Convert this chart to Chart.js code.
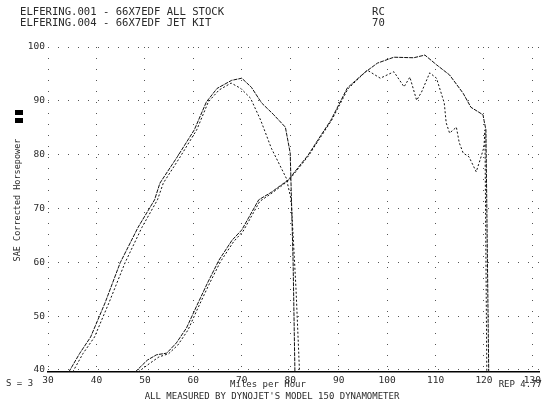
<!DOCTYPE html>
<html>
<head>
<meta charset="utf-8">
<script src="https://cdn.jsdelivr.net/npm/chart.js@4.4.0/dist/chart.umd.min.js"></script>
<style>
  html, body { margin: 0; padding: 0; background: #fff; }
  #wrap { position: relative; width: 544px; height: 409px; }
</style>
</head>
<body>
<div id="wrap"><canvas id="dyno" width="544" height="409"></canvas></div>
<script>
// Dynojet run comparison — SAE corrected HP vs MPH

const X_TICKS = [30, 40, 50, 60, 70, 80, 90, 100, 110, 120, 130];
const Y_TICKS = [40, 50, 60, 70, 80, 90, 100];

// left pair (lower gear)
const L1_MPH = [34.3, 36.5, 38.8, 41.8, 44.9, 48.6, 52.0, 53.1, 56.7, 60.2, 62.7, 64.9, 67.9, 70.0, 72.0, 74.1, 76.5, 79.0, 80.0, 80.6, 81.0];
const L1_HP  = [39.6, 43.0, 46.1, 52.5, 59.9, 66.5, 71.6, 74.7, 79.6, 84.6, 89.8, 92.3, 93.8, 94.2, 92.5, 89.6, 87.5, 85.1, 80.3, 60.0, 38.0];
const L2_MPH = [35.1, 37.2, 39.6, 42.6, 45.9, 49.4, 52.6, 53.8, 57.3, 60.7, 63.1, 65.3, 67.8, 69.8, 71.8, 73.9, 76.1, 79.2, 80.2, 81.2, 82.0];
const L2_HP  = [39.6, 43.0, 46.1, 52.5, 59.9, 66.5, 71.6, 74.7, 79.6, 84.6, 89.8, 92.0, 93.3, 92.3, 90.5, 86.4, 81.2, 75.6, 71.6, 55.0, 38.0];

// right pair (higher gear)
const R1_MPH = [48.0, 50.5, 52.4, 54.5, 56.5, 58.6, 60.6, 62.9, 65.3, 68.0, 70.0, 73.5, 76.1, 79.6, 83.7, 85.7, 88.4, 91.8, 95.3, 98.0, 101.4, 105.5, 107.8, 110.2, 112.9, 115.7, 117.3, 119.8, 120.0, 120.4, 121.0];
const R1_HP  = [39.6, 41.8, 42.8, 43.1, 45.0, 47.8, 51.7, 56.1, 60.4, 64.1, 66.0, 71.6, 73.0, 75.3, 79.9, 82.7, 86.4, 92.4, 95.2, 97.0, 98.1, 98.0, 98.5, 96.7, 94.8, 91.4, 88.8, 87.4, 86.4, 84.6, 38.0];
const R2_MPH = [48.6, 51.0, 52.9, 54.9, 56.8, 58.9, 60.9, 63.2, 65.6, 68.3, 70.3, 73.7, 76.3, 79.7, 83.8, 85.8, 88.5, 91.9, 95.9, 98.6, 101.4, 103.5, 104.7, 106.1, 107.1, 108.8, 110.2, 111.8, 112.2, 112.9, 114.3, 114.9, 115.7, 116.9, 118.4, 119.4, 120.0, 120.2, 120.6];
const R2_HP  = [39.6, 41.2, 42.4, 43.0, 44.6, 47.4, 51.4, 55.8, 60.1, 63.8, 65.8, 71.3, 72.9, 75.2, 79.8, 82.6, 86.3, 92.2, 95.7, 94.2, 95.4, 92.6, 94.4, 90.1, 91.6, 95.2, 94.2, 89.6, 85.9, 84.0, 85.1, 82.2, 80.3, 79.6, 76.8, 79.6, 81.4, 84.6, 38.0];

const TXT = '#2a2a2a';
const MONO = '"DejaVu Sans Mono", "Liberation Mono", monospace';

function pts(xs, ys) {
  return xs.map((x, i) => ({ x, y: ys[i] }));
}

function run(label, xs, ys, dash) {
  return {
    label,
    data: pts(xs, ys),
    borderColor: '#111',
    borderWidth: 1,
    borderDash: dash,
    pointRadius: 0,
    tension: 0,
    fill: false,
  };
}

// ── Header / footer text drawn on the canvas ──────────────────────────────────
const textPlugin = {
  id: 'dynoText',
  afterDraw(chart) {
    const ctx = chart.ctx;
    ctx.save();
    ctx.fillStyle = TXT;
    ctx.textBaseline = 'middle';

    ctx.font = '10.6px ' + MONO;
    ctx.textAlign = 'left';
    ctx.fillText('ELFERING.001 - 66X7EDF ALL STOCK', 20, 12);
    ctx.fillText('ELFERING.004 - 66X7EDF JET KIT', 20, 23);
    ctx.fillText('RC', 372, 12);
    ctx.fillText('70', 372, 23);

    ctx.font = '9px ' + MONO;
    ctx.fillText('S = 3', 6, 384);
    ctx.textAlign = 'center';
    ctx.fillText('Miles per Hour', 268, 385);
    ctx.fillText('ALL MEASURED BY DYNOJET\'S MODEL 150 DYNAMOMETER', 272, 397);
    ctx.textAlign = 'right';
    ctx.fillText('REP 4.77', 542, 385);

    // rotated y title
    ctx.save();
    ctx.translate(18, 200);
    ctx.rotate(-Math.PI / 2);
    ctx.textAlign = 'center';
    ctx.font = '8.5px ' + MONO;
    ctx.fillText('SAE Corrected Horsepower', 0, 0);
    ctx.restore();

    // legend blocks
    ctx.fillStyle = '#000';
    ctx.fillRect(15, 110, 8, 5);
    ctx.fillRect(15, 118, 8, 5);
    ctx.restore();
  },
};

new Chart(document.getElementById('dyno'), {
  type: 'line',
  data: {
    datasets: [
      run('001 low', L1_MPH, L1_HP, [4, 1]),
      run('004 low', L2_MPH, L2_HP, [2, 2]),
      run('001 high', R1_MPH, R1_HP, [4, 1]),
      run('004 high', R2_MPH, R2_HP, [2, 2]),
    ],
  },
  options: {
    responsive: false,
    animation: false,
    devicePixelRatio: 1,
    layout: { padding: { top: 47, right: 0, left: 0, bottom: 0 } },
    plugins: { legend: { display: false }, tooltip: { enabled: false } },
    scales: {
      x: {
        type: 'linear',
        min: 30, max: 131.4,
        afterBuildTicks: s => { s.ticks = X_TICKS.map(v => ({ value: v })); },
        afterFit: s => { s.height = 37; },
        grid: { color: '#555', lineWidth: 1, drawTicks: false },
        border: { display: true, color: '#000', width: 1.5, dash: [1, 10] },
        ticks: { color: TXT, padding: 3, font: { family: MONO, size: 9.5 }, maxRotation: 0, autoSkip: false },
      },
      y: {
        min: 39.6, max: 100,
        afterBuildTicks: s => { s.ticks = Y_TICKS.map(v => ({ value: v })); },
        afterFit: s => { s.width = 48; },
        grid: { color: '#555', lineWidth: 1, drawTicks: false },
        border: { display: false, dash: [1, 9] },
        ticks: { color: TXT, padding: 3, font: { family: MONO, size: 9.5 } },
      },
    },
  },
  plugins: [textPlugin],
});
</script>
</body>
</html>
